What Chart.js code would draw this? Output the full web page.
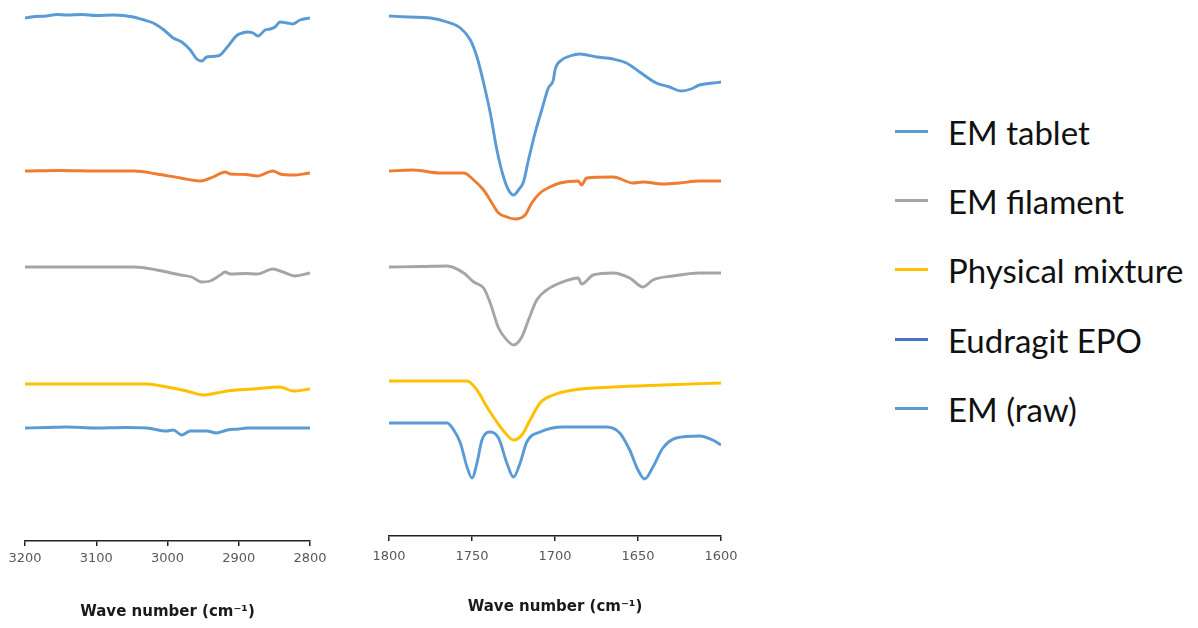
<!DOCTYPE html>
<html>
<head>
<meta charset="utf-8">
<script src="https://cdn.jsdelivr.net/npm/chart.js@4.4.1/dist/chart.umd.min.js"></script>
<style>
  html, body { margin: 0; padding: 0; background: #fff; }
  #stage { position: relative; width: 1198px; height: 628px; overflow: hidden; }
  .panel { position: absolute; top: 0; height: 628px; }
  #leftPanel { left: 0; width: 340px; }
  #rightPanel { left: 360px; width: 390px; }
  #legend { position: absolute; left: 895px; top: 0; font-family: Lato, "Open Sans", sans-serif; font-size: 33px; color: #111; }
  .legend-item { position: absolute; left: 0; white-space: nowrap; height: 40px; }
  .legend-swatch { position: absolute; left: 0; width: 33px; height: 3px; }
  .legend-text { position: absolute; left: 53px; top: 0; line-height: 40px; }
</style>
</head>
<body>
<div id="stage">
  <div class="panel" id="leftPanel"><canvas id="leftChart"></canvas></div>
  <div class="panel" id="rightPanel"><canvas id="rightChart"></canvas></div>
  <div id="legend"></div>
</div>
<script>
// Series names and colours (legend order as in the figure)
const legendNames = ['EM tablet', 'EM filament', 'Physical mixture', 'Eudragit EPO', 'EM (raw)'];
const legendColors = ['#5B9BD5', '#A5A5A5', '#FFC000', '#4472C4', '#5B9BD5'];
const orangeColor = '#ED7D31';

// x ranges and ticks
const leftRange = [2800, 3200];
const rightRange = [1600, 1800];
const leftStep = 100;
const rightStep = 50;
const axisTitle = 'Wave number (cm\u207B\u00B9)';

// Traces: [wave number, offset transmittance]
// 3200-2800 cm-1 window
const tabletLeft = [[3200,104.6],[3185,104.9],[3170,105.0],[3155,105.3],[3141,105.2],[3120,105.3],[3100,105.1],[3075,105.2],[3048,104.8],[3035,104.3],[3020,103.6],[3005,102.2],[2992,100.6],[2980,99.8],[2968,98.2],[2959,96.4],[2952,96.0],[2945,96.8],[2938,96.9],[2931,97.0],[2926,97.2],[2916,98.8],[2902,101.2],[2895,101.6],[2888,101.8],[2880,101.6],[2873,101.0],[2863,102.2],[2856,102.4],[2849,102.8],[2842,103.8],[2832,103.6],[2824,103.4],[2814,104.2],[2800,104.6]];
const orangeLeft = [[3200,74.0],[3150,74.1],[3100,74.0],[3046,74.0],[3015,73.4],[2982,72.6],[2954,72.0],[2936,72.8],[2919,73.8],[2912,73.4],[2890,73.3],[2874,73.0],[2852,74.0],[2842,73.4],[2824,73.2],[2800,73.6]];
const filamentLeft = [[3200,54.8],[3150,54.8],[3100,54.8],[3046,54.8],[3015,54.2],[2982,53.2],[2966,52.8],[2952,51.8],[2940,52.0],[2926,53.2],[2919,53.8],[2912,53.4],[2890,53.5],[2874,53.4],[2852,54.4],[2838,53.8],[2821,53.0],[2800,53.6]];
const mixtureLeft = [[3200,31.4],[3150,31.4],[3100,31.4],[3029,31.4],[3001,30.8],[2973,30.0],[2950,29.2],[2931,29.6],[2916,30.0],[2880,30.4],[2842,30.8],[2824,30.0],[2800,30.4]];
const rawLeft = [[3200,22.6],[3170,22.7],[3141,22.8],[3100,22.6],[3060,22.7],[3029,22.6],[3001,22.0],[2992,22.2],[2980,21.2],[2968,22.0],[2945,22.0],[2931,21.6],[2916,22.2],[2900,22.4],[2888,22.6],[2850,22.6],[2800,22.6]];

// 1800-1600 cm-1 window
const tabletRight = [[1800,105.0],[1788,104.8],[1775,104.6],[1765,103.8],[1757,102.6],[1751,100.2],[1747,96.8],[1743,91.6],[1739,85.6],[1735,78.2],[1731,72.8],[1728,70.2],[1725,69.2],[1722,70.2],[1719,71.8],[1716,76.2],[1712,81.6],[1708,86.2],[1704,90.6],[1701,92.2],[1700,94.2],[1696,96.2],[1691,97.0],[1685,97.4],[1675,96.8],[1665,96.4],[1657,95.6],[1649,93.8],[1639,91.6],[1631,90.8],[1624,90.0],[1618,90.4],[1613,91.2],[1605,91.6],[1600,91.8]];
const orangeRight = [[1800,74.0],[1786,74.2],[1769,73.6],[1755,73.6],[1749,72.2],[1743,70.2],[1738,67.6],[1734,65.6],[1729,64.8],[1724,64.4],[1718,65.2],[1714,67.6],[1709,69.6],[1703,70.8],[1697,71.6],[1686,72.0],[1684,71.2],[1681,72.6],[1665,72.8],[1653,71.6],[1647,71.8],[1635,71.4],[1625,71.6],[1613,72.0],[1600,72.0]];
const filamentRight = [[1800,54.8],[1780,54.9],[1765,55.0],[1755,53.6],[1749,51.8],[1743,50.6],[1739,47.6],[1734,42.6],[1729,40.2],[1725,39.2],[1720,40.8],[1716,44.2],[1711,48.2],[1705,50.2],[1697,51.6],[1686,52.6],[1684,51.4],[1677,53.2],[1665,53.6],[1655,52.6],[1647,50.8],[1641,52.2],[1629,53.0],[1613,53.6],[1600,53.6]];
const mixtureRight = [[1800,32.0],[1775,32.0],[1753,32.0],[1747,30.2],[1741,26.8],[1735,23.8],[1730,21.6],[1725,20.2],[1720,21.2],[1715,24.2],[1709,27.6],[1701,29.2],[1689,30.2],[1665,30.8],[1635,31.2],[1600,31.6]];
const rawRight = [[1800,23.6],[1780,23.6],[1765,23.6],[1761,22.2],[1757,19.6],[1753,14.8],[1750,12.6],[1747,15.6],[1744,20.2],[1739,21.8],[1734,20.6],[1729,15.6],[1725,12.8],[1721,15.6],[1717,19.8],[1709,21.8],[1695,22.8],[1669,22.8],[1661,21.6],[1655,18.2],[1650,14.2],[1646,12.4],[1641,14.8],[1635,18.6],[1627,20.6],[1613,21.0],[1605,20.2],[1600,19.2]];

const eudragitLeft = [];
const eudragitRight = [];

function toPoints(pairs) {
    return pairs.map(p => ({ x: p[0], y: p[1] }));
}

function makeDataset(label, color, pairs) {
    return {
        label: label,
        data: toPoints(pairs),
        borderColor: color,
        backgroundColor: color,
        borderWidth: 2.9,
        pointRadius: 0,
        fill: false,
        cubicInterpolationMode: 'monotone'
    };
}

function buildChart(canvasId, traces, range, step, cfg) {
    const datasets = [
        makeDataset(legendNames[0], legendColors[0], traces[0]),
        makeDataset('', orangeColor, traces[1]),
        makeDataset(legendNames[1], legendColors[1], traces[2]),
        makeDataset(legendNames[2], legendColors[2], traces[3]),
        makeDataset(legendNames[3], legendColors[3], traces[4]),
        makeDataset(legendNames[4], legendColors[4], traces[5])
    ];
    return new Chart(document.getElementById(canvasId), {
        type: 'line',
        data: { datasets: datasets },
        options: {
            responsive: true,
            maintainAspectRatio: false,
            animation: false,
            layout: { padding: { left: cfg.padLeft, right: cfg.padRight, top: 1, bottom: 0 } },
            plugins: { legend: { display: false }, tooltip: { enabled: false } },
            scales: {
                x: {
                    type: 'linear',
                    reverse: true,
                    min: range[0],
                    max: range[1],
                    afterFit: (scale) => { scale.height = cfg.axisHeight; },
                    ticks: {
                        stepSize: step,
                        padding: cfg.tickPad,
                        color: '#595959',
                        font: { family: 'DejaVu Sans', size: 13 },
                        maxRotation: 0,
                        callback: (v) => String(v)
                    },
                    grid: { display: true, drawOnChartArea: false, drawTicks: true, tickLength: 5, color: '#222', lineWidth: 1.5 },
                    border: { display: true, color: '#222', width: 1.5 },
                    title: {
                        display: true,
                        text: axisTitle,
                        color: '#1a1a1a',
                        font: { family: 'DejaVu Sans', size: 15, weight: 'bold' },
                        padding: { top: 0, bottom: cfg.titlePad }
                    }
                },
                y: { display: false, min: cfg.yMin, max: 108 }
            }
        }
    });
}

buildChart('leftChart',
    [tabletLeft, orangeLeft, filamentLeft, mixtureLeft, eudragitLeft, rawLeft],
    leftRange, leftStep,
    { padLeft: 25, padRight: 30, axisHeight: 87, tickPad: 5, titlePad: 7, yMin: 0 });

buildChart('rightChart',
    [tabletRight, orangeRight, filamentRight, mixtureRight, eudragitRight, rawRight],
    rightRange, rightStep,
    { padLeft: 29, padRight: 29, axisHeight: 92, tickPad: 8, titlePad: 12, yMin: 1 });

// Legend built from the same names and colours
const legendTops = [112, 181, 250, 320, 389];
const legendEl = document.getElementById('legend');
legendNames.forEach((name, i) => {
    const item = document.createElement('div');
    item.className = 'legend-item';
    item.style.top = legendTops[i] + 'px';
    item.innerHTML = `<div class="legend-swatch" style="background:${legendColors[i]};top:18px"></div><div class="legend-text">${name}</div>`;
    legendEl.appendChild(item);
});
</script>
</body>
</html>
